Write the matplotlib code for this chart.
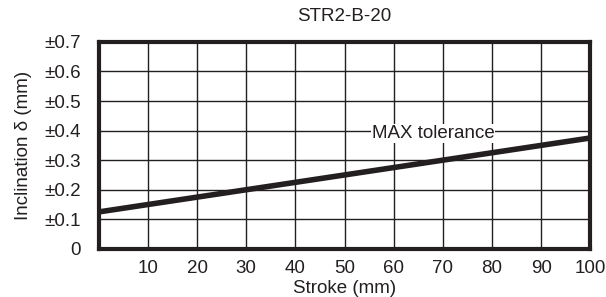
import matplotlib.pyplot as plt

plt.rcParams['font.family'] = ['Liberation Sans', 'DejaVu Sans']

stroke = [0, 100]
inclination = [0.125, 0.375]
x_ticks = [10, 20, 30, 40, 50, 60, 70, 80, 90, 100]
y_ticks = [0, 0.1, 0.2, 0.3, 0.4, 0.5, 0.6, 0.7]
y_labels = ['0', '±0.1', '±0.2', '±0.3', '±0.4', '±0.5', '±0.6', '±0.7']

fig, ax = plt.subplots(figsize=(6.06, 2.97), dpi=100)
fig.subplots_adjust(left=0.163, right=0.974, top=0.859, bottom=0.162)

ax.plot(stroke, inclination, color='#231f20', linewidth=4, solid_capstyle='butt', zorder=3)
ax.set_xlim(0, 100)
ax.set_ylim(0, 0.7)
ax.set_xticks(x_ticks)
ax.set_yticks(y_ticks)
ax.set_yticklabels(y_labels)
ax.tick_params(length=0, labelsize=13.5, colors='#231f20')
ax.tick_params(axis='y', pad=13)
ax.tick_params(axis='x', pad=8)
ax.grid(True, color='#231f20', linewidth=1)
ax.set_axisbelow(True)
for s in ax.spines.values():
    s.set_linewidth(3)
    s.set_color('#231f20')

ax.text(68, 0.39, 'MAX tolerance', fontsize=13.5, ha='center', va='center', color='#231f20',
        bbox=dict(facecolor='white', edgecolor='none', pad=0.5), zorder=4)

ax.set_title('STR2-B-20', fontsize=13.5, pad=15, color='#231f20')
ax.set_xlabel('Stroke (mm)', fontsize=13.5, labelpad=2, color='#231f20')
ax.set_ylabel('Inclination δ (mm)', fontsize=13.5, labelpad=9, color='#231f20')

plt.savefig('out.png')
